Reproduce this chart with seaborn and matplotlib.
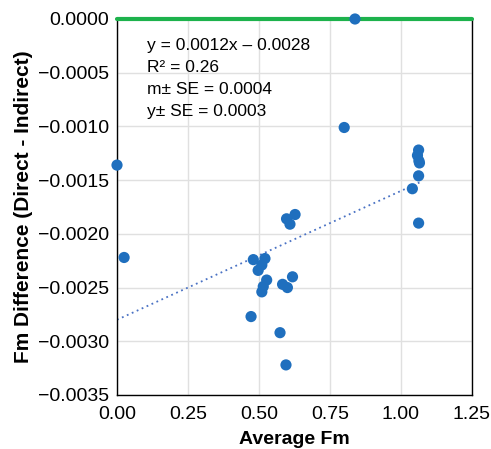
import numpy as np
import pandas as pd
import matplotlib
matplotlib.use("Agg")
import matplotlib.pyplot as plt
import seaborn as sns
from matplotlib.ticker import FuncFormatter

# data
avg_fm = [0.0, 0.025, 0.838, 0.80,
          1.062, 1.058, 1.065, 1.063, 1.062, 1.040, 1.062,
          0.597, 0.627, 0.609, 0.480, 0.521, 0.497, 0.510, 0.527,
          0.515, 0.510, 0.583, 0.600, 0.618, 0.472, 0.574, 0.595]
fm_diff = [-0.00136, -0.00222, 0.0, -0.00101,
           -0.00122, -0.00127, -0.00134, -0.00132, -0.00146, -0.00158, -0.00190,
           -0.00186, -0.00182, -0.00191, -0.00224, -0.00223, -0.00234, -0.00229, -0.00243,
           -0.00249, -0.00254, -0.00247, -0.00250, -0.00240, -0.00277, -0.00292, -0.00322]

slope = 0.0012
intercept = -0.0028
stats_lines = ["y = 0.0012x \u2013 0.0028", "R\u00b2 = 0.26",
               "m\u00b1 SE = 0.0004", "y\u00b1 SE = 0.0003"]

df = pd.DataFrame({"Average Fm": avg_fm, "Fm Difference": fm_diff})
fit_x = np.array([min(avg_fm), max(avg_fm)])
fit_df = pd.DataFrame({"x": fit_x, "y": slope * fit_x + intercept})

sns.set_style("white")
plt.rcParams["font.family"] = ["Liberation Sans", "DejaVu Sans"]

fig = plt.figure(figsize=(4.91, 4.49), dpi=100)
ax = fig.add_axes([0.2383, 0.1203, 0.723, 0.8374])

ax.grid(True, color="#e0e0e0", linewidth=1)
ax.set_axisbelow(True)

ax.axhline(0, color="#1db24c", linewidth=3, zorder=3, clip_on=False)
sns.lineplot(data=fit_df, x="x", y="y", ax=ax, color="#4a72c4",
             linestyle=(0, (1, 2)), linewidth=1.3, zorder=2)
sns.scatterplot(data=df, x="Average Fm", y="Fm Difference", ax=ax,
                color="#1f6fbe", s=65, edgecolor="none", zorder=4, clip_on=False)

ax.set_xlim(0, 1.25)
ax.set_ylim(-0.0035, 0)
ax.set_xticks(np.arange(0, 1.26, 0.25))
ax.set_yticks(np.arange(-0.0035, 0.00001, 0.0005))
ax.xaxis.set_major_formatter(FuncFormatter(lambda v, p: f"{v:.2f}"))
ax.yaxis.set_major_formatter(FuncFormatter(lambda v, p: f"{v:.4f}".replace("-", "\u2212") if abs(v) > 1e-9 else "0.0000"))
ax.tick_params(axis="both", length=0, labelsize=14, labelcolor="black")
ax.tick_params(axis="x", pad=8)
ax.tick_params(axis="y", pad=6)

for s in ax.spines.values():
    s.set_color("black")
    s.set_linewidth(1)

ax.set_xlabel("Average Fm", fontsize=14, fontweight="bold", labelpad=6, color="black")
ax.set_ylabel("Fm Difference (Direct - Indirect)", fontsize=15, fontweight="bold", labelpad=3, color="black")

ax.text(0.085, 0.95, "\n".join(stats_lines), transform=ax.transAxes,
        fontsize=12.5, va="top", ha="left", linespacing=1.6, color="black")

fig.savefig("out.png", dpi=100)
